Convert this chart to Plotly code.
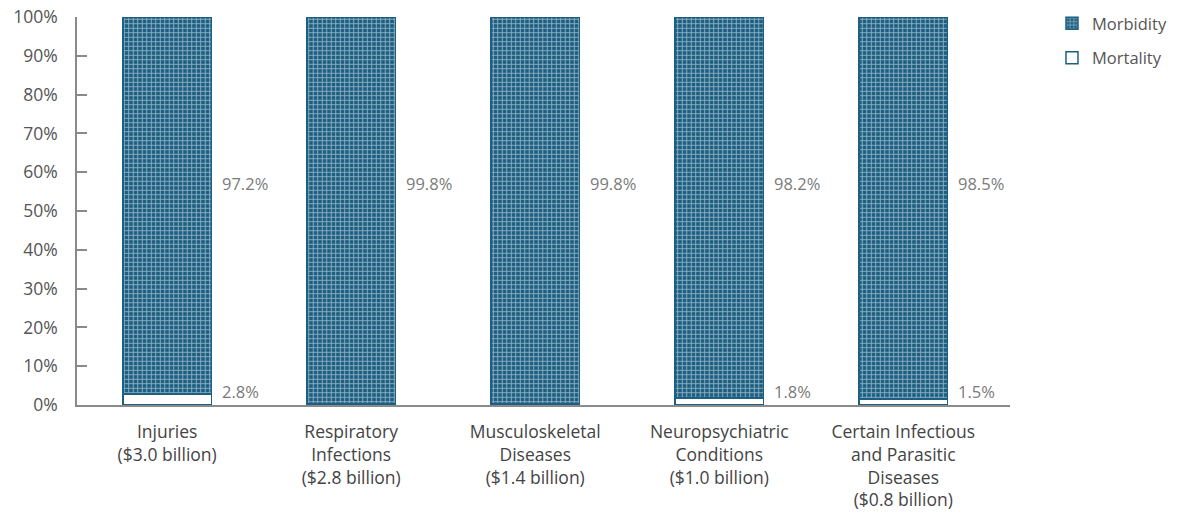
import plotly.graph_objects as go

categories = [
    "Injuries<br>($3.0 billion)",
    "Respiratory<br>Infections<br>($2.8 billion)",
    "Musculoskeletal<br>Diseases<br>($1.4 billion)",
    "Neuropsychiatric<br>Conditions<br>($1.0 billion)",
    "Certain Infectious<br>and Parasitic<br>Diseases<br>($0.8 billion)",
]
morbidity = [97.2, 99.8, 99.8, 98.2, 98.5]
mortality = [2.8, 0.2, 0.2, 1.8, 1.5]
# which bars carry a visible mortality label
show_mortality_label = [True, False, False, True, True]

BLUE = "#1d5f82"
FONT = "Open Sans"
FS = 17.5
x = list(range(len(categories)))

fig = go.Figure()
fig.add_trace(go.Bar(
    x=x, y=mortality, name="Mortality", legendgroup="mort", legendrank=2,
    width=0.48,
    marker=dict(color="white", line=dict(color=BLUE, width=1.5)),
    hoverinfo="skip",
))
fig.add_trace(go.Bar(
    x=x, y=morbidity, name="Morbidity", legendgroup="morb", legendrank=1,
    width=0.48,
    marker=dict(
        color=BLUE,
        line=dict(color=BLUE, width=1.5),
        pattern=dict(shape="+", fgcolor="white", bgcolor=BLUE,
                     size=4.5, solidity=0.38, fillmode="overlay"),
    ),
    hoverinfo="skip",
))

annotations = []
for i, (mb, mt, show) in enumerate(zip(morbidity, mortality, show_mortality_label)):
    annotations.append(dict(
        x=i + 0.24, y=57.2, xref="x", yref="y", xanchor="left", yanchor="middle",
        xshift=9, text=f"{mb:.1f}%", showarrow=False,
        font=dict(family=FONT, size=FS - 1, color="#7a7a7a"),
    ))
    if show:
        annotations.append(dict(
            x=i + 0.24, y=3.4, xref="x", yref="y", xanchor="left", yanchor="middle",
            xshift=9, text=f"{mt:.1f}%", showarrow=False,
            font=dict(family=FONT, size=FS - 1, color="#7a7a7a"),
        ))

fig.update_layout(
    barmode="stack",
    width=1187, height=515,
    margin=dict(l=77, r=177, t=17, b=110, autoexpand=False),
    plot_bgcolor="white", paper_bgcolor="white",
    font=dict(family=FONT, size=FS, color="#444444"),
    annotations=annotations,
    legend=dict(
        x=1.045, y=1.028, xanchor="left", yanchor="top",
        traceorder="grouped", tracegroupgap=10,
        font=dict(family=FONT, size=FS - 1, color="#555555"),
        itemwidth=30,
    ),
    showlegend=True,
)
fig.update_xaxes(
    tickvals=x, ticktext=categories, range=[-0.49, 4.58],
    showline=True, linecolor="#8a8a8a", linewidth=2,
    ticks="", showgrid=False, zeroline=False, ticklabelstandoff=10,
    automargin=False,
    tickfont=dict(family=FONT, size=FS, color="#444444"),
)
fig.update_yaxes(
    range=[0, 100], tickvals=list(range(0, 101, 10)),
    ticktext=[f"{v}%" for v in range(0, 101, 10)],
    showline=True, linecolor="#8a8a8a", linewidth=1.5,
    ticks="inside", ticklen=10, tickcolor="#8a8a8a", tickwidth=1.5,
    showgrid=False, zeroline=False, ticklabelstandoff=14,
    automargin=False,
    tickfont=dict(family=FONT, size=FS, color="#555555"),
)

fig.write_html("out.html")
